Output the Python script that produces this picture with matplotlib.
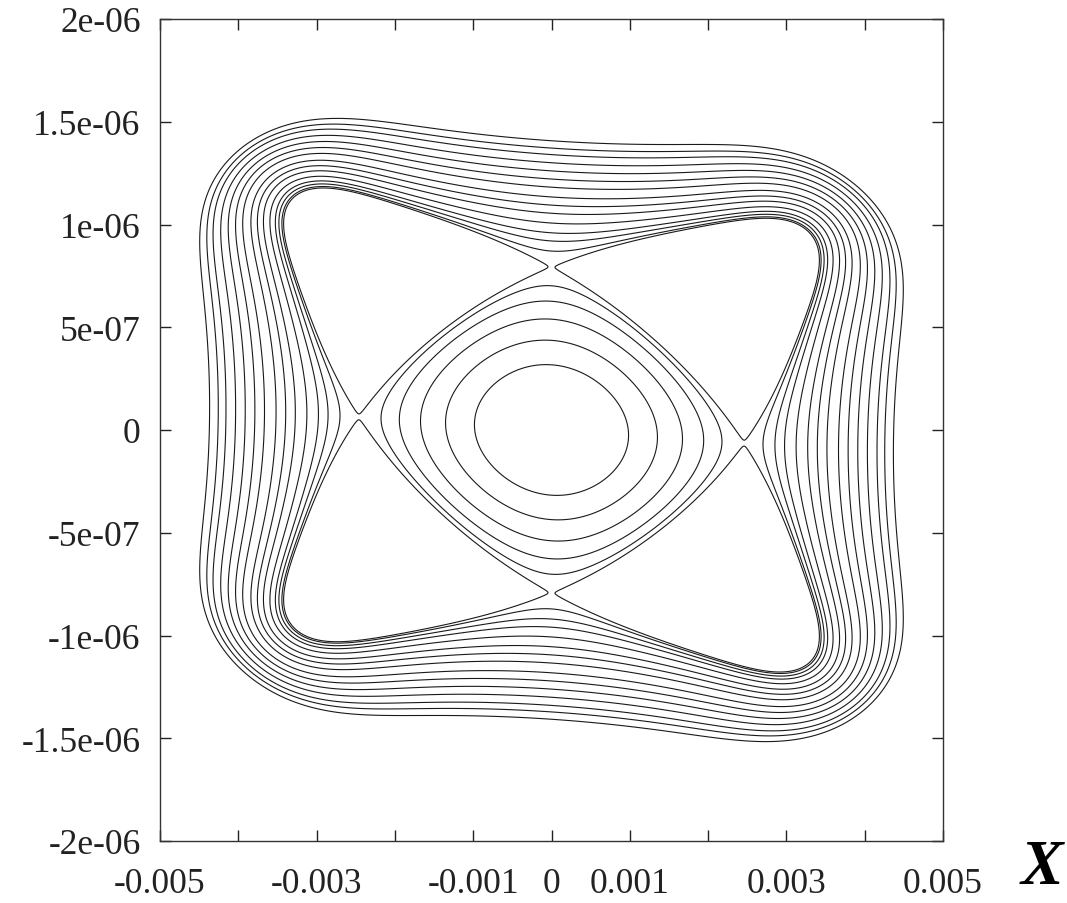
import numpy as np
import matplotlib.pyplot as plt

# phase space portrait (x, x') near a 4th order resonance
# normalisation: saddle on x axis and on x' axis, plus a small shear
x_saddle = 0.00246      # unstable fixed point on the x axis
xp_saddle = 7.93e-7     # unstable fixed point on the x' axis
shear = 2.6e-5          # x' offset per unit x (tilt of the pattern)

# invariant along the axes: h(r) = -r^2 + c4 r^4 + c6 r^6 (normalised units)
axis_coef = [0.2815, 0.1457]
# along the diagonals: separatrix crossings, slope just outside the island,
# radius of the outermost curve
diag_in, diag_out, diag_slope, diag_far = 0.80, 1.88, 3.2, 2.27

# normalised radius where each drawn curve crosses the axes
inner_radii = [0.40, 0.55, 0.68, 0.79, 0.885]
outer_radii = [1.098, 1.16, 1.21, 1.27, 1.33, 1.38, 1.43, 1.49, 1.54, 1.59,
               1.64, 1.69, 1.73, 1.775]
island_gap = 3e-4       # island boundary drawn just below the separatrix

x_ticks = [-0.005, -0.004, -0.003, -0.002, -0.001, 0, 0.001, 0.002, 0.003, 0.004, 0.005]
x_labels = ['-0.005', '', '-0.003', '', '-0.001', '0', '0.001', '', '0.003', '', '0.005']
y_ticks = [-2e-6, -1.5e-6, -1e-6, -5e-7, 0, 5e-7, 1e-6, 1.5e-6, 2e-6]
y_labels = ['-2e-06', '-1.5e-06', '-1e-06', '-5e-07', '0', '5e-07', '1e-06', '1.5e-06', '2e-06']


def h_axis(r):
    return -r**2 + axis_coef[0] * r**4 + axis_coef[1] * r**6


H_s = h_axis(1.0)
H_far = h_axis(outer_radii[-1])

# diagonal profile: -s + d4 s^2 + d6 s^3 + d8 s^4 + d10 s^5, s = r^2
pw = np.array([2, 3, 4, 5])
s_in, s_out, s_far = diag_in**2, diag_out**2, diag_far**2
M = np.array([s_in**pw, s_out**pw, pw * s_out**(pw - 1), s_far**pw])
rhs = np.array([H_s + s_in, H_s + s_out, diag_slope / (2 * diag_out) + 1, H_far + s_far])
d_coef = np.linalg.solve(M, rhs)

x = np.linspace(-0.005, 0.005, 1600)
y = np.linspace(-2e-6, 2e-6, 1600)
X, Y = np.meshgrid(x, y)
u = X / x_saddle
v = (Y + shear * X) / xp_saddle
s = u**2 + v**2
cos4 = (u**4 - 6 * u**2 * v**2 + v**4) / np.maximum(s, 1e-12)**2

h_a = -s + axis_coef[0] * s**2 + axis_coef[1] * s**3
h_d = -s + sum(c * s**p for c, p in zip(d_coef, pw))
H = 0.5 * (h_a + h_d) + 0.5 * (h_a - h_d) * cos4

inside = (np.maximum(np.abs(u), np.abs(v)) < 1.0) & (np.abs(u) + np.abs(v) < 1.6)
H_in = np.where(inside, H, H_s - 1)
H_out = np.where(inside, H_s - 1, H)

inner_levels = sorted(h_axis(np.array(inner_radii)))
outer_levels = sorted(h_axis(np.array(outer_radii)))

plt.rcParams['font.family'] = ['Liberation Serif', 'DejaVu Serif']
fig = plt.figure(figsize=(10.67, 9.04), dpi=100)
ax = fig.add_axes([160 / 1067, 62 / 904, 783 / 1067, 822 / 904])

lc = '#1a1a1a'
lw = 0.8
ax.contour(X, Y, H_in, levels=inner_levels, colors=lc, linewidths=lw, linestyles='solid')
ax.contour(X, Y, H_out, levels=outer_levels, colors=lc, linewidths=lw, linestyles='solid')
ax.contour(X, Y, H, levels=[H_s - island_gap], colors=lc, linewidths=lw, linestyles='solid')

ax.set_xlim(-0.005, 0.005)
ax.set_ylim(-2e-6, 2e-6)
ax.set_xticks(x_ticks)
ax.set_xticklabels(x_labels)
ax.set_yticks(y_ticks)
ax.set_yticklabels(y_labels)
ax.tick_params(direction='in', top=True, right=True, length=8, width=1,
               labelsize=25.5, colors='#222222')
ax.tick_params(axis='x', pad=19)
ax.tick_params(axis='y', pad=14)
for sp in ax.spines.values():
    sp.set_color('#333333')
    sp.set_linewidth(1.0)

fig.text(1042 / 1067, 1 - 869 / 904, 'X', fontsize=46, fontweight='bold',
         fontstyle='italic', ha='center', va='center')

fig.savefig('out.png', dpi=100)
